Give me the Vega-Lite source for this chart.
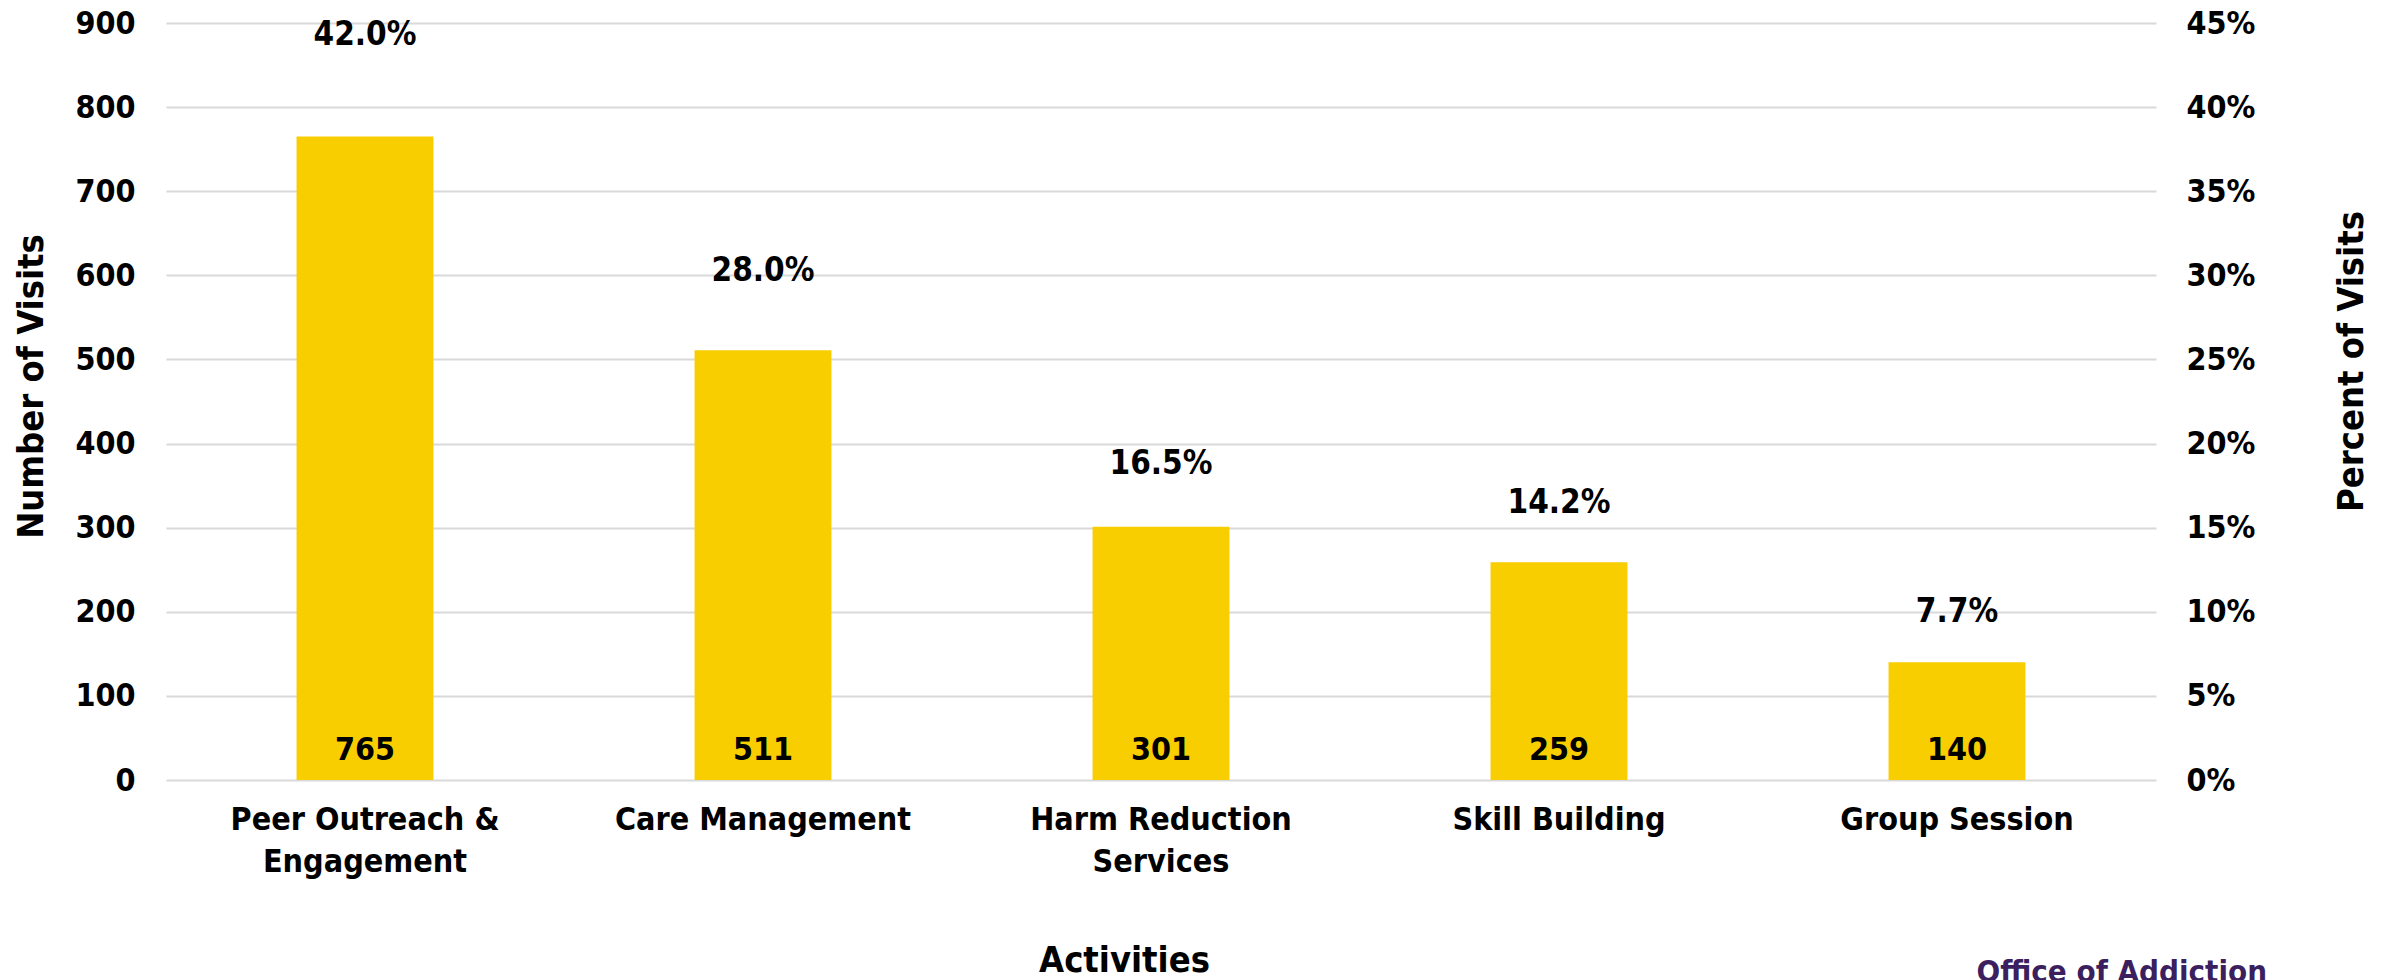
{
  "$schema": "https://vega.github.io/schema/vega-lite/v6.json",
  "width": 1990,
  "height": 757,
  "autosize": "none",
  "padding": {"left": 166, "top": 23, "right": 241, "bottom": 200},
  "background": "white",
  "config": {
    "view": {"stroke": null},
    "font": "DejaVu Sans Condensed",
    "axis": {
      "labelFont": "DejaVu Sans Condensed",
      "titleFont": "DejaVu Sans Condensed",
      "labelFontWeight": "bold",
      "titleFontWeight": "bold",
      "labelColor": "#000000",
      "titleColor": "#000000",
      "labelFontSize": 32,
      "titleFontSize": 36,
      "labelLimit": 0,
      "domain": false,
      "ticks": false
    }
  },
  "title": {
    "text": "Office of Addiction",
    "orient": "bottom",
    "anchor": "end",
    "frame": "group",
    "offset": -20,
    "dx": 111,
    "fontSize": 31,
    "fontWeight": "bold",
    "font": "DejaVu Sans Condensed",
    "color": "#3B1F5E"
  },
  "data": {
    "values": [
      {"activity": "Peer Outreach & Engagement", "visits": 765, "pct": 0.42},
      {"activity": "Care Management", "visits": 511, "pct": 0.28},
      {"activity": "Harm Reduction Services", "visits": 301, "pct": 0.165},
      {"activity": "Skill Building", "visits": 259, "pct": 0.142},
      {"activity": "Group Session", "visits": 140, "pct": 0.077}
    ]
  },
  "encoding": {
    "x": {
      "field": "activity",
      "type": "nominal",
      "sort": null,
      "scale": {"paddingInner": 0.656, "paddingOuter": 0.328},
      "axis": {
        "title": "Activities",
        "labelAngle": 0,
        "labelPadding": 24,
        "labelLineHeight": 42,
        "labelBaseline": "top",
        "titlePadding": 66,
        "titleX": 958,
        "labelExpr": "datum.label == 'Peer Outreach & Engagement' ? ['Peer Outreach &', 'Engagement'] : datum.label == 'Harm Reduction Services' ? ['Harm Reduction', 'Services'] : datum.label"
      }
    }
  },
  "layer": [
    {
      "layer": [
        {
          "mark": {"type": "bar", "color": "#F9CE00"},
          "encoding": {
            "y": {
              "field": "visits",
              "type": "quantitative",
              "scale": {"domain": [0, 900], "nice": false},
              "axis": {
                "title": "Number of Visits",
                "values": [0, 100, 200, 300, 400, 500, 600, 700, 800, 900],
                "grid": true,
                "gridColor": "#D9D9D9",
                "gridWidth": 2,
                "labelPadding": 31,
                "titlePadding": 24,
                "titleY": 363
              }
            }
          }
        },
        {
          "mark": {"type": "text", "baseline": "middle", "dy": -30, "fontSize": 32, "fontWeight": "bold", "font": "DejaVu Sans Condensed", "color": "#000000"},
          "encoding": {
            "y": {"datum": 0, "type": "quantitative", "title": "Number of Visits"},
            "text": {"field": "visits", "type": "quantitative"}
          }
        }
      ]
    },
    {
      "mark": {"type": "text", "baseline": "middle", "dy": -38, "fontSize": 33, "fontWeight": "bold", "font": "DejaVu Sans Condensed", "color": "#000000"},
      "encoding": {
        "y": {
          "field": "pct",
          "type": "quantitative",
          "scale": {"domain": [0, 0.45], "nice": false},
          "axis": {
            "orient": "right",
            "title": "Percent of Visits",
            "titleAngle": 270,
            "titleBaseline": "top",
            "format": ".0%",
            "values": [0, 0.05, 0.1, 0.15, 0.2, 0.25, 0.3, 0.35, 0.4, 0.45],
            "grid": false,
            "labelPadding": 30,
            "titlePadding": 80,
            "titleY": 338
          }
        },
        "text": {"field": "pct", "type": "quantitative", "format": ".1%"}
      }
    }
  ],
  "resolve": {"scale": {"y": "independent"}}
}
